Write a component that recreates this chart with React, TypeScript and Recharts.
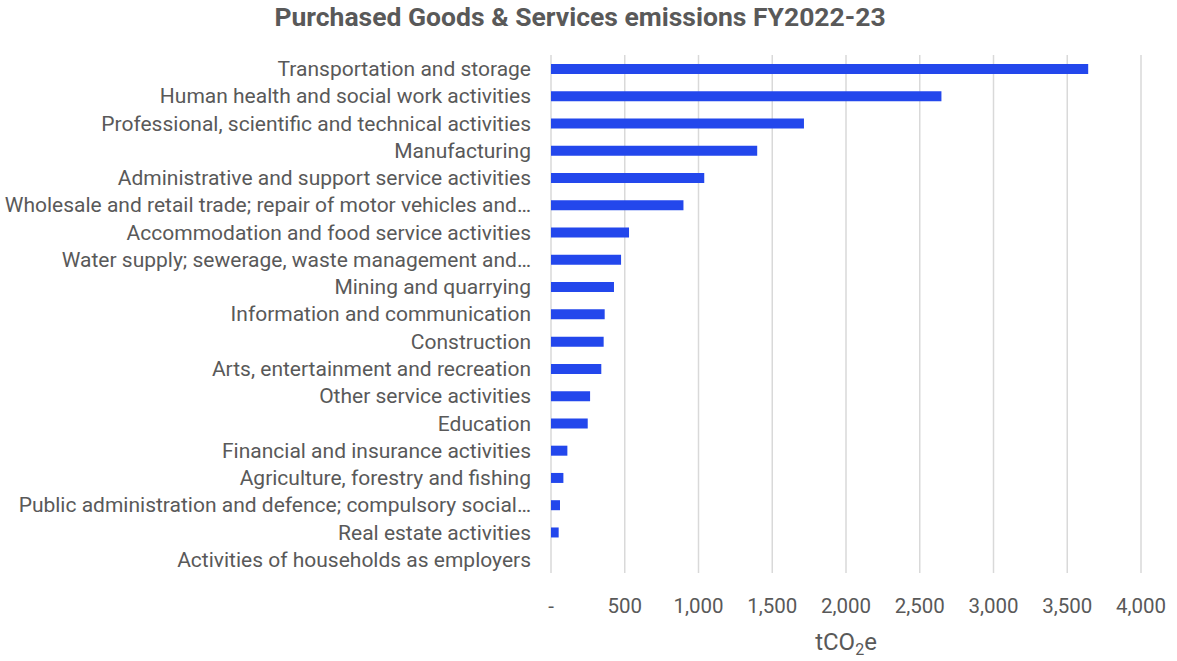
import { BarChart, Bar, XAxis, YAxis, CartesianGrid } from "recharts";

const categories = [
  "Transportation and storage",
  "Human health and social work activities",
  "Professional, scientific and technical activities",
  "Manufacturing",
  "Administrative and support service activities",
  "Wholesale and retail trade; repair of motor vehicles and…",
  "Accommodation and food service activities",
  "Water supply; sewerage, waste management and…",
  "Mining and quarrying",
  "Information and communication",
  "Construction",
  "Arts, entertainment and recreation",
  "Other service activities",
  "Education",
  "Financial and insurance activities",
  "Agriculture, forestry and fishing",
  "Public administration and defence; compulsory social…",
  "Real estate activities",
  "Activities of households as employers",
];

const emissions = [
  3642, 2647, 1715, 1398, 1039, 898, 529, 475, 427, 364, 357, 341, 265, 249,
  111, 84, 61, 52, 0,
];

const xTicks = [0, 500, 1000, 1500, 2000, 2500, 3000, 3500, 4000];

const data = categories.map((name, i) => ({ name, value: emissions[i] }));

const FONT = "Roboto, 'Noto Sans', sans-serif";
const GREY = "#595959";

const fmt = (v: number) => (v === 0 ? "-" : v.toLocaleString("en-US"));

// axis title with subscript 2
const UnitLabel = (props: any) => {
  const { viewBox } = props;
  const cx = viewBox.x + viewBox.width / 2;
  return (
    <text
      x={cx}
      y={650}
      textAnchor="middle"
      fontFamily={FONT}
      fontSize={24}
      fill={GREY}
    >
      tCO
      <tspan fontSize={16} dy={5}>
        2
      </tspan>
      <tspan dy={-5}>e</tspan>
    </text>
  );
};

export default function App() {
  return (
    <div
      style={{
        position: "absolute",
        left: 0,
        top: 0,
        width: 1177,
        height: 661,
        background: "#fff",
      }}
    >
      <div
        style={{
          position: "absolute",
          left: 0,
          top: 1,
          width: 1160,
          textAlign: "center",
          fontFamily: FONT,
          fontWeight: 700,
          fontSize: 26.5,
          color: GREY,
        }}
      >
        Purchased Goods &amp; Services emissions FY2022-23
      </div>
      <BarChart
        width={1177}
        height={661}
        data={data}
        layout="vertical"
        margin={{ top: 55, right: 36, bottom: 28, left: 0 }}
        barCategoryGap={8}
      >
        <CartesianGrid
          horizontal={false}
          stroke="#d9d9d9"
          strokeWidth={1.5}
        />
        <XAxis
          type="number"
          domain={[0, 4000]}
          ticks={xTicks}
          tickFormatter={fmt}
          axisLine={false}
          tickLine={false}
          tickSize={0}
          tickMargin={25}
          height={60}
          tick={{ fontFamily: FONT, fontSize: 20.5, fill: GREY }}
          label={<UnitLabel />}
        />
        <YAxis
          type="category"
          dataKey="name"
          width={551}
          axisLine={false}
          tickLine={false}
          tickSize={0}
          tickMargin={20}
          interval={0}
          tick={{ fontFamily: FONT, fontSize: 21, fill: GREY }}
        />
        <Bar
          dataKey="value"
          fill="#2347EC"
          barSize={10}
          isAnimationActive={false}
        />
      </BarChart>
    </div>
  );
}
